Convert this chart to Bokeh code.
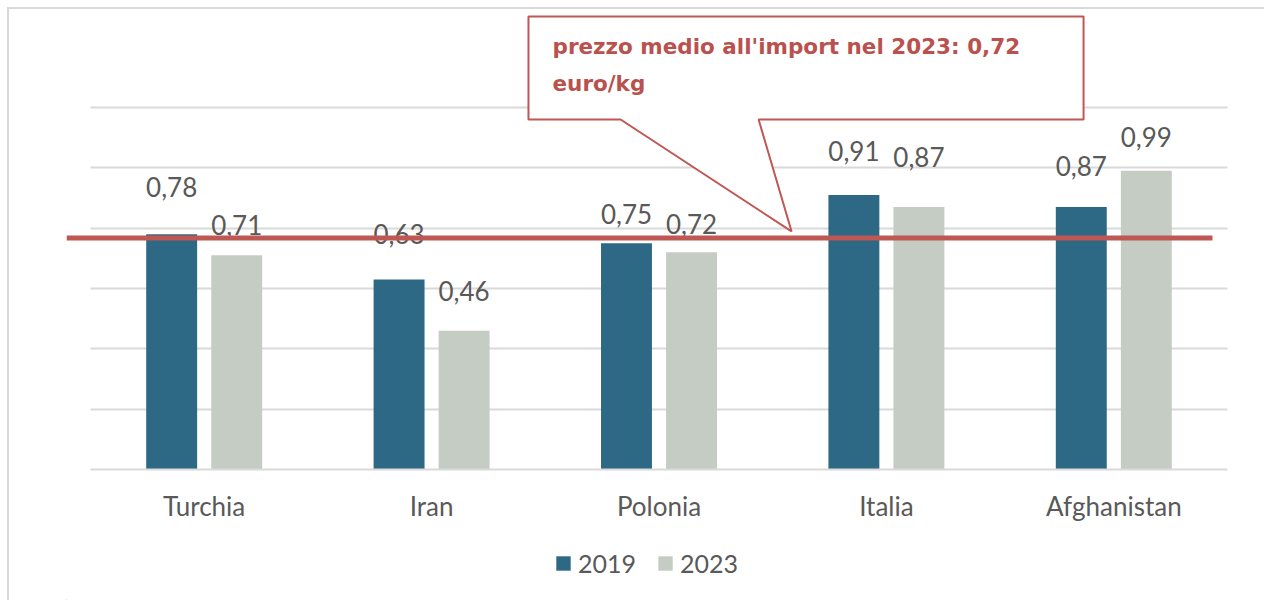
from bokeh.plotting import figure
from bokeh.layouts import column
from bokeh.models import (ColumnDataSource, FactorRange, Range1d, FixedTicker, Grid,
                          Legend, LegendItem, PolyAnnotation, BoxAnnotation, Label)
from bokeh.transform import dodge
from bokeh.core.properties import value
from bokeh.embed import file_html
from bokeh.resources import INLINE

# ---------------- data ----------------
CATEGORIES = ["Turchia", "Iran", "Polonia", "Italia", "Afghanistan"]
SERIES = ["2019", "2023"]
V2019 = [0.78, 0.63, 0.75, 0.91, 0.87]
V2023 = [0.71, 0.46, 0.72, 0.87, 0.99]
AVG_LINE = 0.767          # level at which the red reference line is drawn
CALLOUT_L1 = "prezzo medio all'import nel 2023: 0,72"
CALLOUT_L2 = "euro/kg"
GRID_TICKS = [0.2, 0.4, 0.6, 0.8, 1.0, 1.2]

# ---------------- styles ----------------
C2019 = "#2D6985"
C2023 = "#C5CCC4"
RED = "#BF5753"
TEXT_RED = "#B9524E"
GREY_TXT = "#595959"
GRID_C = "#D9D9D9"
BAR_W = 0.224
OFF = 0.143
PAD = 0.1055
GAP2019 = [47, 45, 29, 44, 41]   # label lift above bar top, px
GAP2023 = [30, 40, 28, 50, 34]
W = 1255

fmt = lambda v: f"{v:.2f}".replace(".", ",")

src = ColumnDataSource(dict(
    cat=CATEGORIES,
    v2019=V2019, v2023=V2023,
    t2019=[fmt(v) for v in V2019], t2023=[fmt(v) for v in V2023],
    g2019=[-g for g in GAP2019], g2023=[-g for g in GAP2023],
))

p = figure(width=W, height=530, output_backend="svg", toolbar_location=None,
           x_range=FactorRange(factors=CATEGORIES, range_padding=PAD,
                               range_padding_units="absolute"),
           y_range=Range1d(0, 1.5147),
           y_axis_location=None, min_border_left=57, min_border_right=13,
           min_border_top=3, min_border_bottom=70)
p.outline_line_color = None
p.background_fill_color = "white"
p.border_fill_color = "white"
p.xgrid.visible = False
p.ygrid.visible = False

grid = Grid(dimension=1, ticker=FixedTicker(ticks=GRID_TICKS),
            grid_line_color=GRID_C, grid_line_width=2)
if "cross_bounds" in Grid.properties():
    grid.cross_bounds = (0, len(CATEGORIES))
p.add_layout(grid, "center")

ax = p.xaxis[0]
ax.bounds = (0, len(CATEGORIES))
ax.axis_line_color = GRID_C
ax.axis_line_width = 2
ax.major_tick_line_color = None
ax.minor_tick_line_color = None
ax.major_tick_out = 0
ax.major_label_standoff = 20
ax.major_label_text_font = "Lato"
ax.major_label_text_font_size = "26px"
ax.major_label_text_color = GREY_TXT

r1 = p.vbar(x=dodge("cat", -OFF, range=p.x_range), top="v2019", width=BAR_W, bottom=0,
            source=src, fill_color=C2019, line_color=None)
r2 = p.vbar(x=dodge("cat", OFF, range=p.x_range), top="v2023", width=BAR_W, bottom=0,
            source=src, fill_color=C2023, line_color=None)

p.text(x=dodge("cat", -OFF, range=p.x_range), y="v2019", text="t2019", y_offset="g2019",
       source=src, text_align="center", text_baseline="alphabetic",
       text_font=value("Lato"), text_font_size=value("26px"), text_color=GREY_TXT)
p.text(x=dodge("cat", OFF, range=p.x_range), y="v2023", text="t2023", y_offset="g2023",
       source=src, text_align="center", text_baseline="alphabetic",
       text_font=value("Lato"), text_font_size=value("26px"), text_color=GREY_TXT)

# red reference line
thick = 5 / 301.7
p.add_layout(BoxAnnotation(left=-PAD, right=4.934, bottom=AVG_LINE - thick / 2,
                           top=AVG_LINE + thick / 2, fill_color=RED, fill_alpha=1,
                           line_color=None, level="overlay"))

# callout
bx_l, bx_r, bx_t, bx_b = 1.926, 4.367, 1.5015, 1.160
pt_l, pt_r, tip_x, tip_y = 2.331, 2.938, 3.083, 0.789
p.add_layout(PolyAnnotation(
    xs=[bx_l, bx_r, bx_r, pt_r, tip_x, pt_l, bx_l],
    ys=[bx_t, bx_t, bx_b, bx_b, tip_y, bx_b, bx_b],
    fill_color="white", fill_alpha=1, line_color=RED, line_alpha=1, line_width=2,
    level="overlay"))
p.add_layout(Label(x=2.0317, y=1.402, text=CALLOUT_L1, text_font="DejaVu Sans",
                   text_font_style="bold", text_font_size="21.5px", text_color=TEXT_RED,
                   text_baseline="alphabetic", level="overlay"))
p.add_layout(Label(x=2.0317, y=1.279, text=CALLOUT_L2, text_font="DejaVu Sans",
                   text_font_style="bold", text_font_size="21.5px", text_color=TEXT_RED,
                   text_baseline="alphabetic", level="overlay"))

# legend strip (second figure, same colours)
LH = 61
p2 = figure(width=W, height=LH, output_backend="svg", toolbar_location=None,
            x_range=Range1d(0, W), y_range=Range1d(0, LH),
            x_axis_location=None, y_axis_location=None, min_border=0,
            min_border_left=0, min_border_right=0, min_border_top=0, min_border_bottom=0)
p2.outline_line_color = None
p2.grid.visible = False
lsrc = ColumnDataSource(dict(x=[-100.0], top=[1.0]))
l1 = p2.vbar(x="x", top="top", width=1, source=lsrc, fill_color=C2019, line_color=None)
l2 = p2.vbar(x="x", top="top", width=1, source=lsrc, fill_color=C2023, line_color=None)
legend = Legend(items=[LegendItem(label=SERIES[0], renderers=[l1]),
                       LegendItem(label=SERIES[1], renderers=[l2])],
                orientation="horizontal", location=(488, 22),
                glyph_width=18, glyph_height=18, label_standoff=6, spacing=20,
                padding=0, margin=0, border_line_color=None, background_fill_alpha=0,
                label_text_font="Lato", label_text_font_size="25px",
                label_text_color=GREY_TXT, label_height=18)
p2.add_layout(legend, "center")

layout = column(p, p2, spacing=0,
                styles={"margin-left": "7px", "margin-top": "7px",
                        "border-left": "2px solid #D9D9D9",
                        "border-top": "2px solid #D9D9D9"})

open("out.html", "w").write(file_html(layout, INLINE))
